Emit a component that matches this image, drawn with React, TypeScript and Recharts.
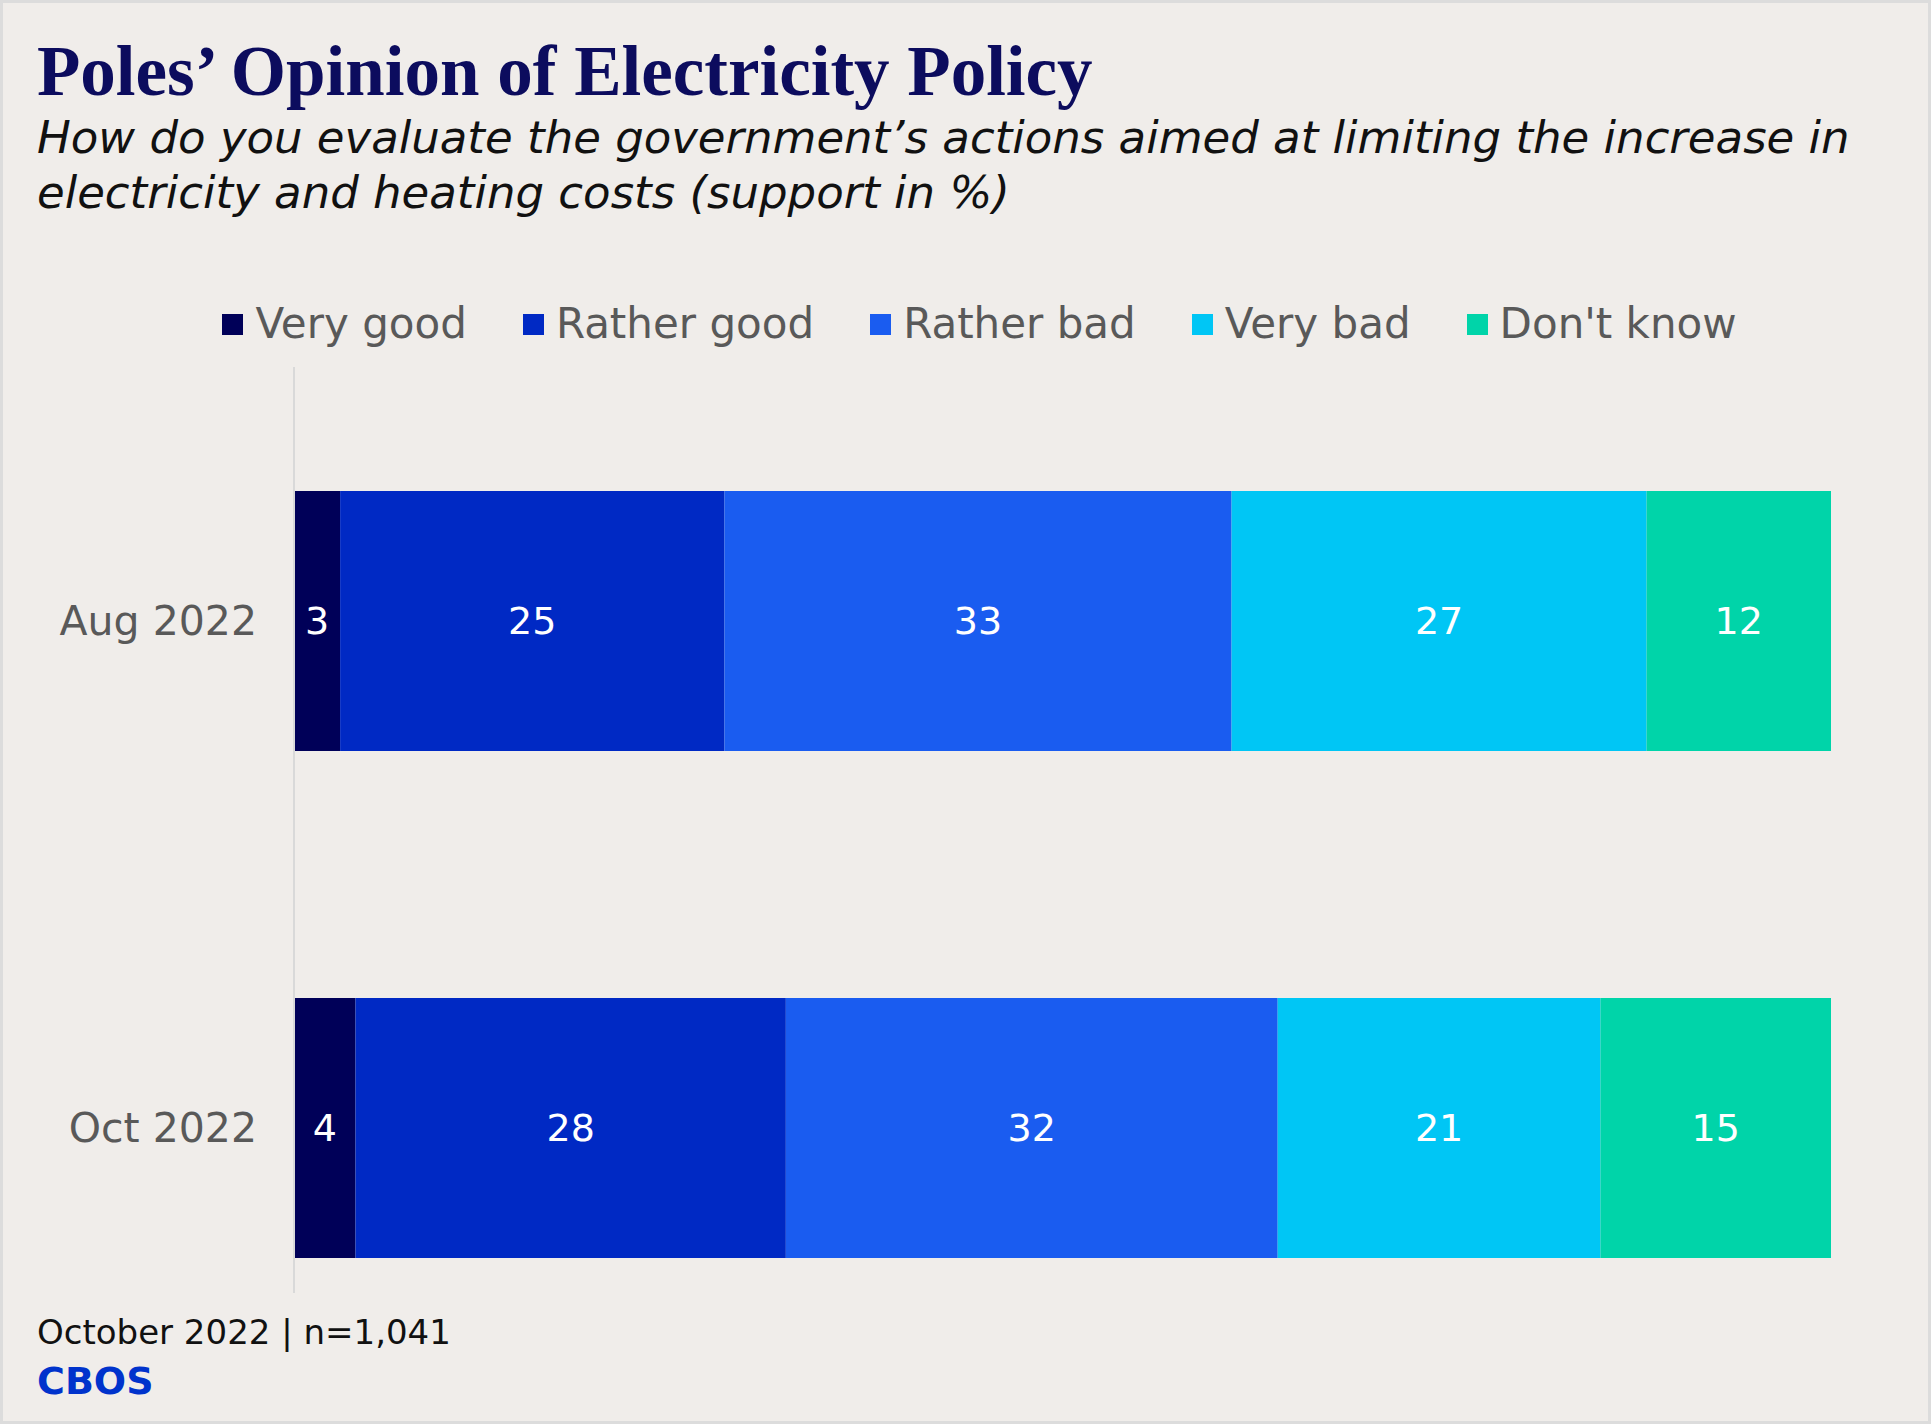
import React from "react";
import { BarChart, Bar, XAxis, YAxis, Legend, LabelList } from "recharts";

const periods = ["Aug 2022", "Oct 2022"];
const veryGood = [3, 4];
const ratherGood = [25, 28];
const ratherBad = [33, 32];
const veryBad = [27, 21];
const dontKnow = [12, 15];

const seriesNames = ["Very good", "Rather good", "Rather bad", "Very bad", "Don't know"];
const seriesKeys = ["veryGood", "ratherGood", "ratherBad", "veryBad", "dontKnow"];
const seriesColors = ["#000058", "#0029c4", "#1a5cf0", "#00c6f5", "#00d4a9"];

const data = periods.map((p, i) => ({
  period: p,
  veryGood: veryGood[i],
  ratherGood: ratherGood[i],
  ratherBad: ratherBad[i],
  veryBad: veryBad[i],
  dontKnow: dontKnow[i],
}));

const BG = "#f0edea";
const SANS = "'DejaVu Sans', sans-serif";

const LegendContent = () => (
  <div
    style={{
      display: "flex",
      justifyContent: "center",
      alignItems: "center",
      gap: 56,
      fontFamily: SANS,
      fontSize: 42,
      color: "#595959",
      lineHeight: "48px",
      height: 48,
    }}
  >
    {seriesNames.map((n, i) => (
      <div key={n} style={{ display: "flex", alignItems: "center" }}>
        <div style={{ width: 21, height: 21, background: seriesColors[i], marginRight: 12 }} />
        <span>{n}</span>
      </div>
    ))}
  </div>
);

export default function App() {
  return (
    <div
      style={{
        position: "absolute",
        left: 0,
        top: 0,
        width: 1931,
        height: 1424,
        background: BG,
        border: "3px solid #dcdcdc",
        boxSizing: "border-box",
        overflow: "hidden",
      }}
    >
      <div style={{ position: "absolute", left: -3, top: -3 }}>
        <BarChart
          width={1931}
          height={1400}
          data={data}
          layout="vertical"
          margin={{ top: 319, right: 100, bottom: 19, left: 0 }}
          barSize={260}
        >
          <XAxis type="number" domain={[0, 100]} hide />
          <YAxis
            type="category"
            dataKey="period"
            width={294}
            tickLine={false}
            tickSize={0}
            tickMargin={37}
            axisLine={{ stroke: "#d9d9d9", strokeWidth: 2 }}
            tick={{ fill: "#595959", fontSize: 41, fontFamily: SANS }}
          />
          <Legend
            verticalAlign="top"
            content={<LegendContent />}
            wrapperStyle={{ top: 300, left: 14, width: 1931, height: 48 }}
          />
          {seriesKeys.map((k, i) => (
            <Bar key={k} dataKey={k} name={seriesNames[i]} stackId="a" fill={seriesColors[i]} isAnimationActive={false}>
              <LabelList dataKey={k} position="center" fill="#ffffff" fontSize={38} fontFamily={SANS} />
            </Bar>
          ))}
        </BarChart>
      </div>
      <div
        style={{
          position: "absolute",
          left: 34,
          top: 33,
          fontFamily: "'Liberation Serif', serif",
          fontWeight: 700,
          fontSize: 71,
          lineHeight: "71px",
          color: "#0c0c5e",
          whiteSpace: "nowrap",
        }}
      >
        Poles’ Opinion of Electricity Policy
      </div>
      <div
        style={{
          position: "absolute",
          left: 34,
          top: 107,
          fontFamily: SANS,
          fontStyle: "italic",
          fontSize: 45,
          lineHeight: "55px",
          color: "#111111",
          width: 1880,
          whiteSpace: "nowrap",
        }}
      >
        How do you evaluate the government’s actions aimed at limiting the increase in
        <br />
        electricity and heating costs (support in %)
      </div>
      <div
        style={{
          position: "absolute",
          left: 0,
          top: 1290,
          width: 1931,
          height: 140,
          background: BG,
        }}
      >
        <div
          style={{
            position: "absolute",
            left: 34,
            top: 19,
            fontFamily: SANS,
            fontSize: 34,
            lineHeight: "40px",
            color: "#111111",
            whiteSpace: "nowrap",
          }}
        >
          October 2022 | n=1,041
        </div>
        <div
          style={{
            position: "absolute",
            left: 34,
            top: 68,
            fontFamily: SANS,
            fontWeight: 700,
            fontSize: 38,
            lineHeight: "40px",
            color: "#0033cc",
            whiteSpace: "nowrap",
          }}
        >
          CBOS
        </div>
      </div>
    </div>
  );
}
